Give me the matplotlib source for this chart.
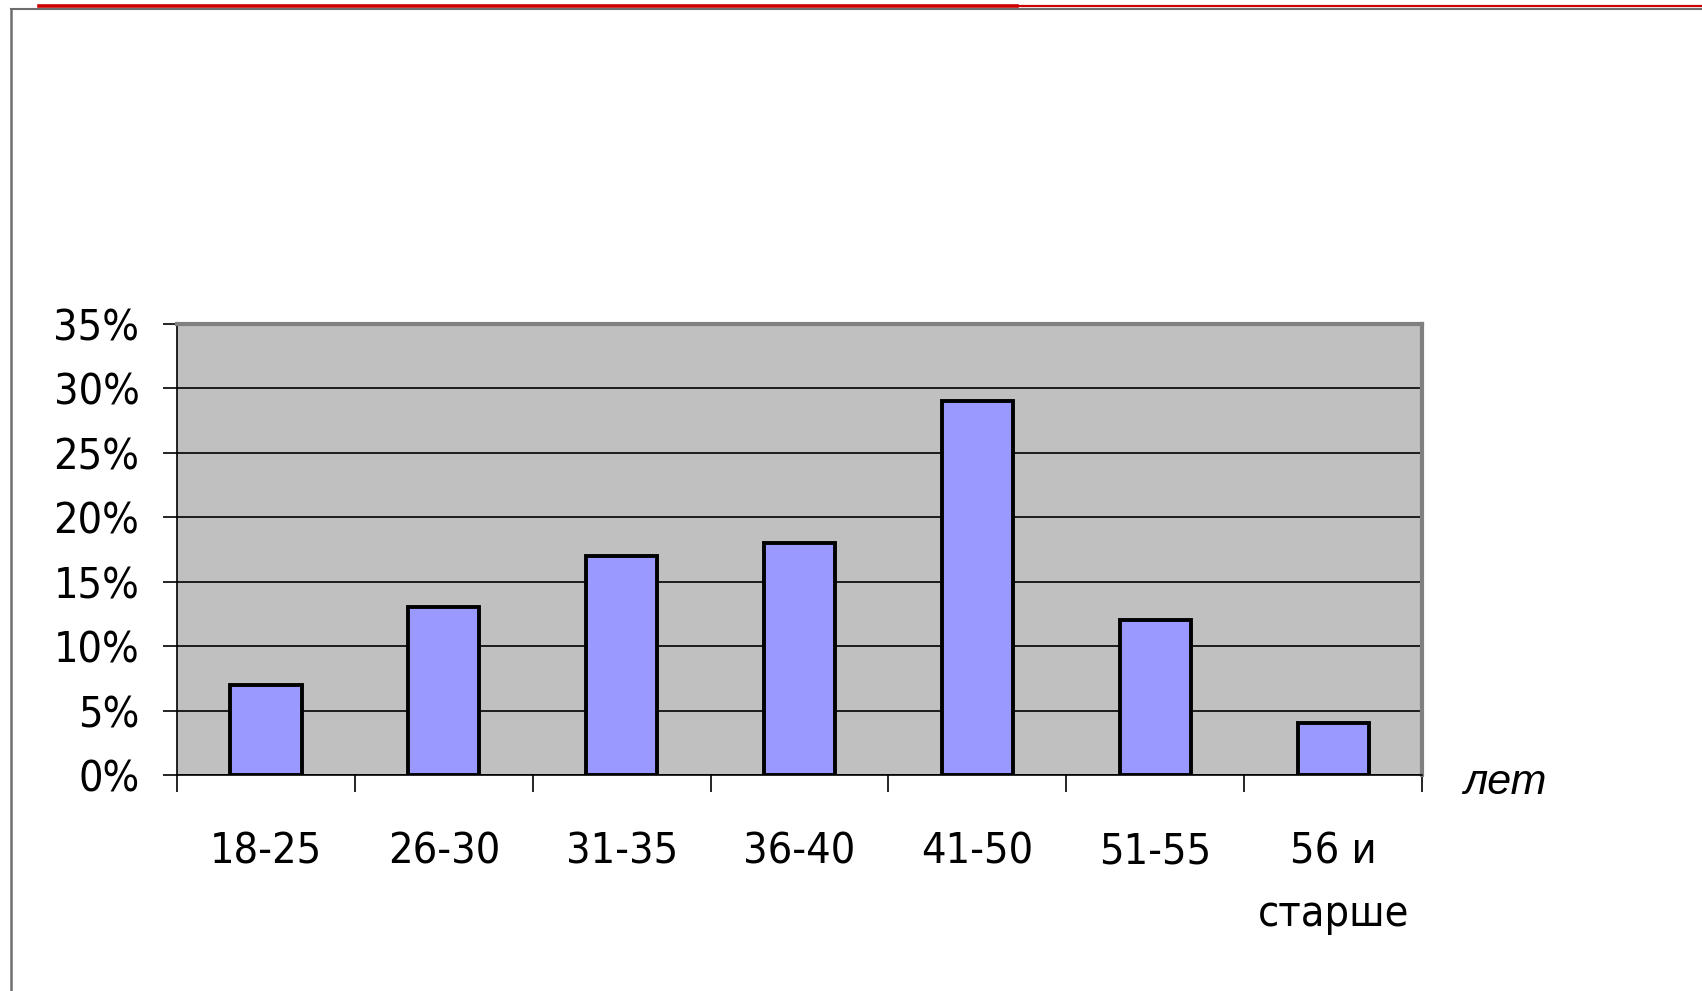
import matplotlib
matplotlib.use("Agg")
import matplotlib.pyplot as plt
from matplotlib.lines import Line2D
from matplotlib.ticker import FixedLocator

categories = ["18-25", "26-30", "31-35", "36-40", "41-50", "51-55", "56 и\nстарше"]
values = [0.07, 0.13, 0.17, 0.18, 0.29, 0.12, 0.04]
yticks = [0.0, 0.05, 0.10, 0.15, 0.20, 0.25, 0.30, 0.35]
ytick_labels = ["0%", "5%", "10%", "15%", "20%", "25%", "30%", "35%"]
unit_label = "лет"

W, H = 1702, 991
fig = plt.figure(figsize=(W / 100, H / 100), dpi=100)
fig.patch.set_facecolor("white")

# slide decorations
fig.add_artist(Line2D([11 / W, 1.0], [1 - 8.5 / H, 1 - 8.5 / H], color="#6e6e6e", lw=1.5, transform=fig.transFigure))
fig.add_artist(Line2D([11 / W, 11 / W], [0.0, 1 - 8.5 / H], color="#6e6e6e", lw=1.8, transform=fig.transFigure))
fig.add_artist(Line2D([39 / W, 1017 / W], [1 - 6.3 / H, 1 - 6.3 / H], color="#cc0000", lw=2.6, transform=fig.transFigure))
fig.add_artist(Line2D([1017 / W, 1.0], [1 - 5.8 / H, 1 - 5.8 / H], color="#cc0000", lw=1.6, transform=fig.transFigure))

ax = fig.add_axes([177 / W, 1 - 775 / H, (1422 - 177) / W, (775 - 324) / H])
ax.set_facecolor("#C0C0C0")

x = list(range(len(categories)))
ax.bar(x, values, width=0.4, color="#9999FF", edgecolor="black", linewidth=2.8, zorder=3)

ax.set_xlim(-0.5, len(categories) - 0.5)
ax.set_ylim(0, 0.35)

ax.yaxis.set_major_locator(FixedLocator(yticks))
ax.set_yticklabels(ytick_labels)
ax.grid(axis="y", color="black", lw=1.2, zorder=1)
ax.set_axisbelow(True)

# category boundaries as major ticks, labels at centers via minor ticks
ax.xaxis.set_major_locator(FixedLocator([i - 0.5 for i in range(len(categories) + 1)]))
ax.xaxis.set_minor_locator(FixedLocator(x))
ax.set_xticklabels([""] * (len(categories) + 1))
ax.set_xticklabels(categories, minor=True)

fp = dict(family="DejaVu Sans", stretch="condensed", size=31)
for lab in ax.get_yticklabels():
    lab.set(**fp)
for lab in ax.get_xticklabels(minor=True):
    lab.set(**fp)
    lab.set_linespacing(1.62)

ax.tick_params(axis="y", which="major", direction="out", length=10, width=1.2, color="black", pad=17)
ax.tick_params(axis="x", which="major", direction="out", length=12, width=1.2, color="black")
ax.tick_params(axis="x", which="minor", length=0, pad=40)

for s in ("left", "bottom"):
    ax.spines[s].set_color("black")
    ax.spines[s].set_linewidth(1.2)
for s in ("top", "right"):
    ax.spines[s].set_color("#808080")
    ax.spines[s].set_linewidth(3)

fig.text(1463 / W, 1 - 783 / H, unit_label, family="Liberation Sans", style="italic",
         size=31, ha="left", va="center")

fig.savefig("out.png", dpi=100)
